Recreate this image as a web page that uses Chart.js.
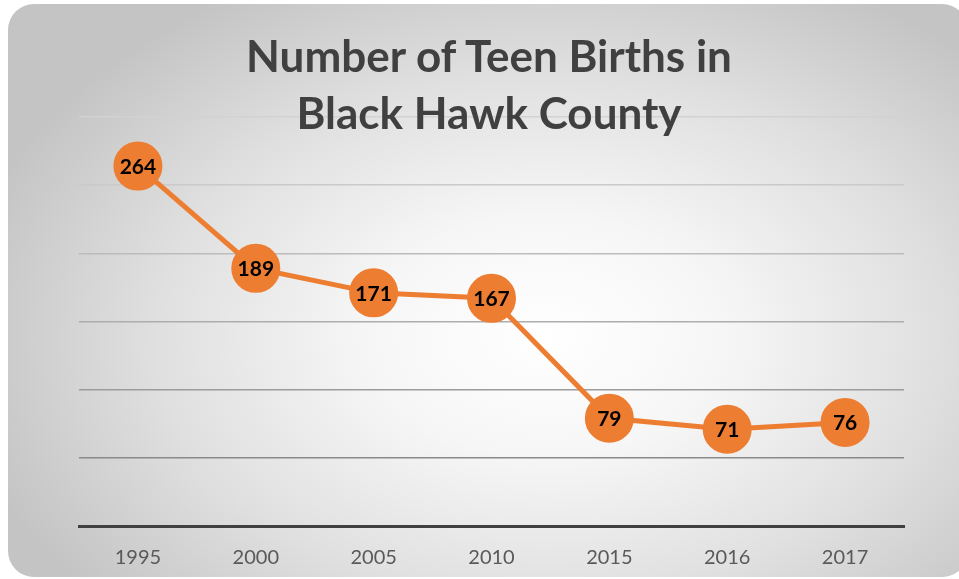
<!DOCTYPE html>
<html>
<head>
<meta charset="utf-8">
<script src="https://cdn.jsdelivr.net/npm/chart.js@4.4.1/dist/chart.umd.min.js"></script>
<style>
  html, body { margin: 0; padding: 0; background: #fff; }
  #wrap { position: relative; width: 959px; height: 579px; overflow: hidden; }
  #card {
    position: absolute; left: 8px; top: 4px; width: 960px; height: 573px;
    border-radius: 26px;
    background: radial-gradient(ellipse 62% 70% at 56% 58%, #ffffff 0%, #f6f6f6 30%, #e0e0e0 65%, #c4c4c4 100%);
  }
  #title {
    position: absolute; left: 8px; width: 962px; top: 27px; text-align: center;
    font-family: Lato, "Open Sans", sans-serif; font-weight: 700; font-size: 44px;
    line-height: 57px; color: #404040;
  }
  canvas { position: absolute; left: 0; top: 0; }
</style>
</head>
<body>
<div id="wrap">
  <div id="card"></div>
  <canvas id="myChart" width="959" height="579"></canvas>
  <div id="title">Number of Teen Births in<br>Black Hawk County</div>
</div>
<script>
var years = ['1995', '2000', '2005', '2010', '2015', '2016', '2017'];
var births = [264, 189, 171, 167, 79, 71, 76];
var gridShade = { 300: '#d2d2d2', 250: '#cacaca', 200: '#bcbcbc', 150: '#adadad', 100: '#9c9c9c', 50: '#8a8a8a', 0: 'rgba(0,0,0,0)' };

// draws each value inside its marker
var valueLabels = {
  id: 'valueLabels',
  afterDatasetsDraw: function(chart) {
    var ctx = chart.ctx;
    var meta = chart.getDatasetMeta(0);
    ctx.save();
    ctx.font = 'bold 21px Lato, "Open Sans", sans-serif';
    ctx.fillStyle = '#000';
    ctx.textAlign = 'center';
    ctx.textBaseline = 'middle';
    meta.data.forEach(function(pt, i) {
      ctx.fillText(births[i], pt.x, pt.y + 1);
    });
    ctx.restore();
  }
};

var ctx = document.getElementById('myChart').getContext('2d');
var chart = new Chart(ctx, {
  type: 'line',
  data: {
    labels: years,
    datasets: [{
      label: 'Teen Births',
      data: births,
      borderColor: '#ED7D31',
      backgroundColor: '#ED7D31',
      pointBackgroundColor: '#ED7D31',
      pointBorderColor: '#ED7D31',
      borderWidth: 5,
      pointRadius: 22,
      pointHoverRadius: 22,
      tension: 0
    }]
  },
  plugins: [valueLabels],
  options: {
    responsive: false,
    animation: false,
    layout: { padding: { left: 79, right: 55, top: 117, bottom: 0 } },
    plugins: { legend: { display: false }, tooltip: { enabled: false } },
    scales: {
      x: {
        offset: true,
        grid: { display: false },
        border: { display: true, color: '#404040', width: 3 },
        ticks: { color: '#595959', font: { family: 'Lato, "Open Sans", sans-serif', size: 20 }, padding: 12 },
        afterFit: function(s) { s.height = 53; }
      },
      y: {
        min: 0, max: 300,
        ticks: { display: false, stepSize: 50 },
        border: { display: false },
        grid: {
          drawTicks: false,
          lineWidth: 1.5,
          color: function(c) { return gridShade[c.tick.value] || '#bbb'; }
        },
        afterFit: function(s) { s.width = 0; }
      }
    }
  }
});
</script>
</body>
</html>
